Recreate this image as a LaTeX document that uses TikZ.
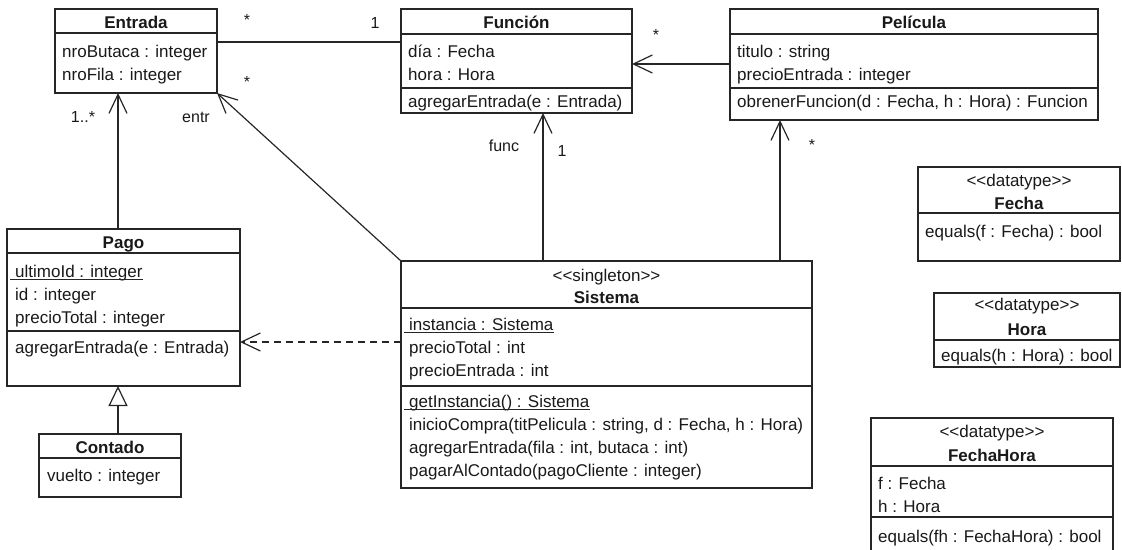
\documentclass[tikz,border=0pt]{standalone}
\usepackage{fontspec}
\setmainfont{Liberation Sans}[Ligatures=TeXOff]
\usetikzlibrary{arrows.meta}

\newcommand{\mainsz}{\fontsize{17}{21}\selectfont}
\newcommand{\labsz}{\fontsize{16}{19}\selectfont}
% underline for static members, drawn through the baseline area
\newcommand{\staticline}[1]{\draw[staticrule] ([xshift=-5pt,yshift=-2.5pt]#1.base west) -- ([yshift=-2.5pt]#1.base east);}

\tikzset{
  ink/.style={draw=black!85, line width=1.2pt},
  classbox/.style={ink, rectangle, inner sep=0pt, outer sep=0pt, anchor=north west, fill=white},
  divider/.style={ink},
  member/.style={inner sep=0pt, anchor=base west, font=\mainsz, text=black!90},
  classname/.style={inner sep=0pt, anchor=base, font=\mainsz\bfseries, text=black!90},
  stereo/.style={inner sep=0pt, anchor=base, font=\mainsz, text=black!90},
  mult/.style={inner sep=0pt, font=\labsz, text=black!90},
  plainassoc/.style={ink},
  navassoc/.style={ink, -{Straight Barb[length=19pt, width=18pt]}},
  usage/.style={navassoc, dash pattern=on 7pt off 5pt},
  inherit/.style={ink, -{Triangle[open, length=20pt, width=19pt, fill=white]}},
  staticrule/.style={draw=black!85, line width=1pt},
}

\begin{document}
\begin{tikzpicture}[x=1pt, y=-1pt]
\useasboundingbox (0,0) rectangle (1122,549);
\clip (0,0) rectangle (1122,549);

% ---------- class boxes ----------
\node[classbox, minimum width=162pt, minimum height=84pt]  (entrada)  at (55,9)    {};
\node[classbox, minimum width=231pt, minimum height=104pt] (funcion)  at (401,9)   {};
\node[classbox, minimum width=368pt, minimum height=111pt] (pelicula) at (730,9)   {};
\node[classbox, minimum width=233pt, minimum height=157pt] (pago)     at (7,229)   {};
\node[classbox, minimum width=142pt, minimum height=63pt]  (contado)  at (39,434)  {};
\node[classbox, minimum width=411pt, minimum height=227pt] (sistema)  at (401,261) {};
\node[classbox, minimum width=202pt, minimum height=94pt]  (fecha)    at (918,167) {};
\node[classbox, minimum width=186pt, minimum height=74pt]  (hora)     at (934,293) {};
\node[classbox, minimum width=242pt, minimum height=142pt] (fechahora) at (871,418) {};

% ---------- compartment dividers ----------
\draw[divider] (entrada.west |- 0,33) -- (entrada.east |- 0,33);
\draw[divider] (funcion.west |- 0,34) -- (funcion.east |- 0,34);
\draw[divider] (funcion.west |- 0,88) -- (funcion.east |- 0,88);
\draw[divider] (pelicula.west |- 0,34) -- (pelicula.east |- 0,34);
\draw[divider] (pelicula.west |- 0,88) -- (pelicula.east |- 0,88);
\draw[divider] (pago.west |- 0,253) -- (pago.east |- 0,253);
\draw[divider] (pago.west |- 0,331) -- (pago.east |- 0,331);
\draw[divider] (contado.west |- 0,458) -- (contado.east |- 0,458);
\draw[divider] (sistema.west |- 0,308) -- (sistema.east |- 0,308);
\draw[divider] (sistema.west |- 0,386) -- (sistema.east |- 0,386);
\draw[divider] (fecha.west |- 0,213) -- (fecha.east |- 0,213);
\draw[divider] (hora.west |- 0,340) -- (hora.east |- 0,340);
\draw[divider] (fechahora.west |- 0,466) -- (fechahora.east |- 0,466);
\draw[divider] (fechahora.west |- 0,517) -- (fechahora.east |- 0,517);

% ---------- Entrada ----------
\node[classname] (entrada-n) at (136,28) {Entrada};
\node[member] (entrada-a1) at (62,57) {nroButaca : integer};
\node[member] (entrada-a2) at (62,80) {nroFila : integer};

% ---------- Función ----------
\node[classname] (funcion-n) at (516.5,28) {Función};
\node[member] (funcion-a1) at (408,57) {día : Fecha};
\node[member] (funcion-a2) at (408,80) {hora : Hora};
\node[member] (funcion-o1) at (408,107) {agregarEntrada(e : Entrada)};

% ---------- Película ----------
\node[classname] (pelicula-n) at (914,28) {Película};
\node[member] (pelicula-a1) at (737,57) {titulo : string};
\node[member] (pelicula-a2) at (737,80) {precioEntrada : integer};
\node[member] (pelicula-o1) at (737,107) {obrenerFuncion(d : Fecha, h : Hora) : Funcion};

% ---------- Pago ----------
\node[classname] (pago-n) at (123.5,248) {Pago};
\node[member] (pago-a1) at (15,277) {ultimoId : integer};
\staticline{pago-a1}
\node[member] (pago-a2) at (15,300) {id : integer};
\node[member] (pago-a3) at (15,323) {precioTotal : integer};
\node[member] (pago-o1) at (15,353) {agregarEntrada(e : Entrada)};

% ---------- Contado ----------
\node[classname] (contado-n) at (110,453) {Contado};
\node[member] (contado-a1) at (47,481) {vuelto : integer};

% ---------- Sistema ----------
\node[stereo] (sistema-s) at (606.5,281) {<<singleton>>};
\node[classname] (sistema-n) at (606.5,303) {Sistema};
\node[member] (sistema-a1) at (409,330) {instancia : Sistema};
\staticline{sistema-a1}
\node[member] (sistema-a2) at (409,353) {precioTotal : int};
\node[member] (sistema-a3) at (409,376) {precioEntrada : int};
\node[member] (sistema-o1) at (409,407) {getInstancia() : Sistema};
\staticline{sistema-o1}
\node[member] (sistema-o2) at (409,430) {inicioCompra(titPelicula : string, d : Fecha, h : Hora)};
\node[member] (sistema-o3) at (409,453) {agregarEntrada(fila : int, butaca : int)};
\node[member] (sistema-o4) at (409,476) {pagarAlContado(pagoCliente : integer)};

% ---------- data types ----------
\node[stereo] (fecha-s) at (1019,186) {<<datatype>>};
\node[classname] (fecha-n) at (1019,209) {Fecha};
\node[member] (fecha-o1) at (925,237) {equals(f : Fecha) : bool};

\node[stereo] (hora-s) at (1027,310) {<<datatype>>};
\node[classname] (hora-n) at (1027,335) {Hora};
\node[member] (hora-o1) at (941,361) {equals(h : Hora) : bool};

\node[stereo] (fechahora-s) at (992,437) {<<datatype>>};
\node[classname] (fechahora-n) at (992,461) {FechaHora};
\node[member] (fechahora-a1) at (878,489) {f : Fecha};
\node[member] (fechahora-a2) at (878,512) {h : Hora};
\node[member] (fechahora-o1) at (878,542) {equals(fh : FechaHora) : bool};

% ---------- relationships ----------
\draw[plainassoc] (entrada.east |- 0,42) -- (funcion.west |- 0,42);
\draw[navassoc] (pelicula.west |- 0,64) -- (funcion.east |- 0,64);
\draw[navassoc] (pago.north -| 118,0) -- (entrada.south -| 118,0);
\draw[navassoc] (sistema.north west) -- (entrada.south east);
\draw[navassoc] (sistema.north -| 543,0) -- (funcion.south -| 543,0);
\draw[navassoc] (sistema.north -| 780,0) -- (pelicula.south -| 780,0);
\draw[usage] (sistema.west |- 0,342) -- (pago.east |- 0,342);
\draw[inherit] (contado.north -| 118,0) -- (pago.south -| 118,0);

% ---------- multiplicities and role names ----------
\node[mult] (m-ent-fun-a) at (247,20) {*};
\node[mult] (m-ent-fun-b) at (375,23) {1};
\node[mult] (m-sis-ent)   at (247,82) {*};
\node[mult] (r-sis-ent)   at (196,117) {entr};
\node[mult] (m-pag-ent)   at (83,117) {1..*};
\node[mult] (m-pel-fun)   at (656,35) {*};
\node[mult] (r-sis-fun)   at (504,146) {func};
\node[mult] (m-sis-fun)   at (562,151) {1};
\node[mult] (m-sis-pel)   at (812,145) {*};
\end{tikzpicture}
\end{document}
